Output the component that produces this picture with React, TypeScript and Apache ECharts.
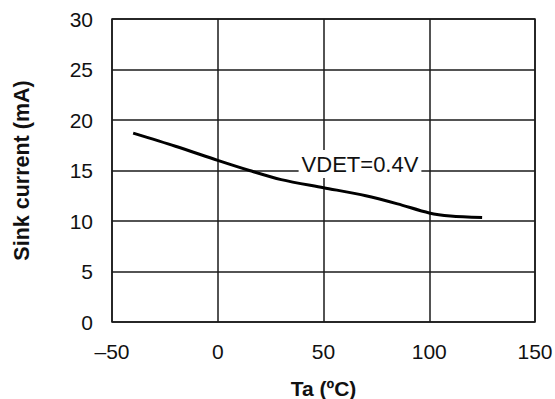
import React, { useEffect, useRef } from "react";
import * as echarts from "echarts";

const temperatures = [-40, -20, 0, 15, 30, 50, 70, 85, 100, 110, 125];
const sinkCurrent = [18.7, 17.4, 16.0, 15.0, 14.1, 13.3, 12.5, 11.7, 10.8, 10.5, 10.35];
const xTicks = [-50, 0, 50, 100, 150];
const yTicks = [0, 5, 10, 15, 20, 25, 30];
const curveLabel = "VDET=0.4V";
const xName = "Ta (ºC)";
const yName = "Sink current (mA)";

export default function App() {
  const ref = useRef<HTMLDivElement>(null);
  useEffect(() => {
    document.body.style.margin = "0";
    if (!ref.current) return;
    const chart = echarts.init(ref.current, null, { renderer: "svg" });
    const font = "'Liberation Sans', Arial, Helvetica, sans-serif";
    const lineCol = "#1a1a1a";
    chart.setOption({
      animation: false,
      backgroundColor: "#fff",
      grid: {
        left: 112,
        right: 20,
        top: 19,
        bottom: 77,
        containLabel: false,
        outerBoundsMode: "none",
        show: true,
        borderColor: lineCol,
        borderWidth: 1.5,
        backgroundColor: "transparent",
      },
      xAxis: {
        type: "value",
        min: xTicks[0],
        max: xTicks[xTicks.length - 1],
        interval: 50,
        name: xName,
        nameLocation: "middle",
        nameGap: 56,
        nameTextStyle: { fontFamily: font, fontSize: 21, fontWeight: "bold", color: "#111" },
        axisLine: { show: false },
        axisTick: { show: false },
        axisLabel: {
          margin: 19,
          fontFamily: font,
          fontSize: 21,
          color: "#111",
          formatter: (v: number) => (v < 0 ? "\u2013" + Math.abs(v) : String(v)),
        },
        splitLine: { show: true, lineStyle: { color: lineCol, width: 1.5 } },
      },
      yAxis: {
        type: "value",
        min: yTicks[0],
        max: yTicks[yTicks.length - 1],
        interval: 5,
        name: yName,
        nameLocation: "middle",
        nameGap: 79,
        nameTextStyle: { fontFamily: font, fontSize: 21.5, fontWeight: "bold", color: "#111" },
        axisLine: { show: false },
        axisTick: { show: false },
        axisLabel: { margin: 19, fontFamily: font, fontSize: 21, color: "#111" },
        splitLine: { show: true, lineStyle: { color: lineCol, width: 1.5 } },
      },
      series: [
        {
          type: "line",
          data: temperatures.map((t, i) => [t, sinkCurrent[i]]),
          smooth: 0.3,
          showSymbol: false,
          lineStyle: { color: "#000", width: 3 },
        },
      ],
      graphic: [
        {
          type: "text",
          x: 360,
          y: 164,
          z: 100,
          style: {
            text: curveLabel,
            fontFamily: font,
            fontSize: 22,
            fill: "#111",
            align: "center",
            verticalAlign: "middle",
            backgroundColor: "#fff",
            padding: [3, 3, 3, 3],
          },
        },
      ],
    });
    return () => chart.dispose();
  }, []);
  return <div ref={ref} style={{ width: 555, height: 399 }} />;
}
